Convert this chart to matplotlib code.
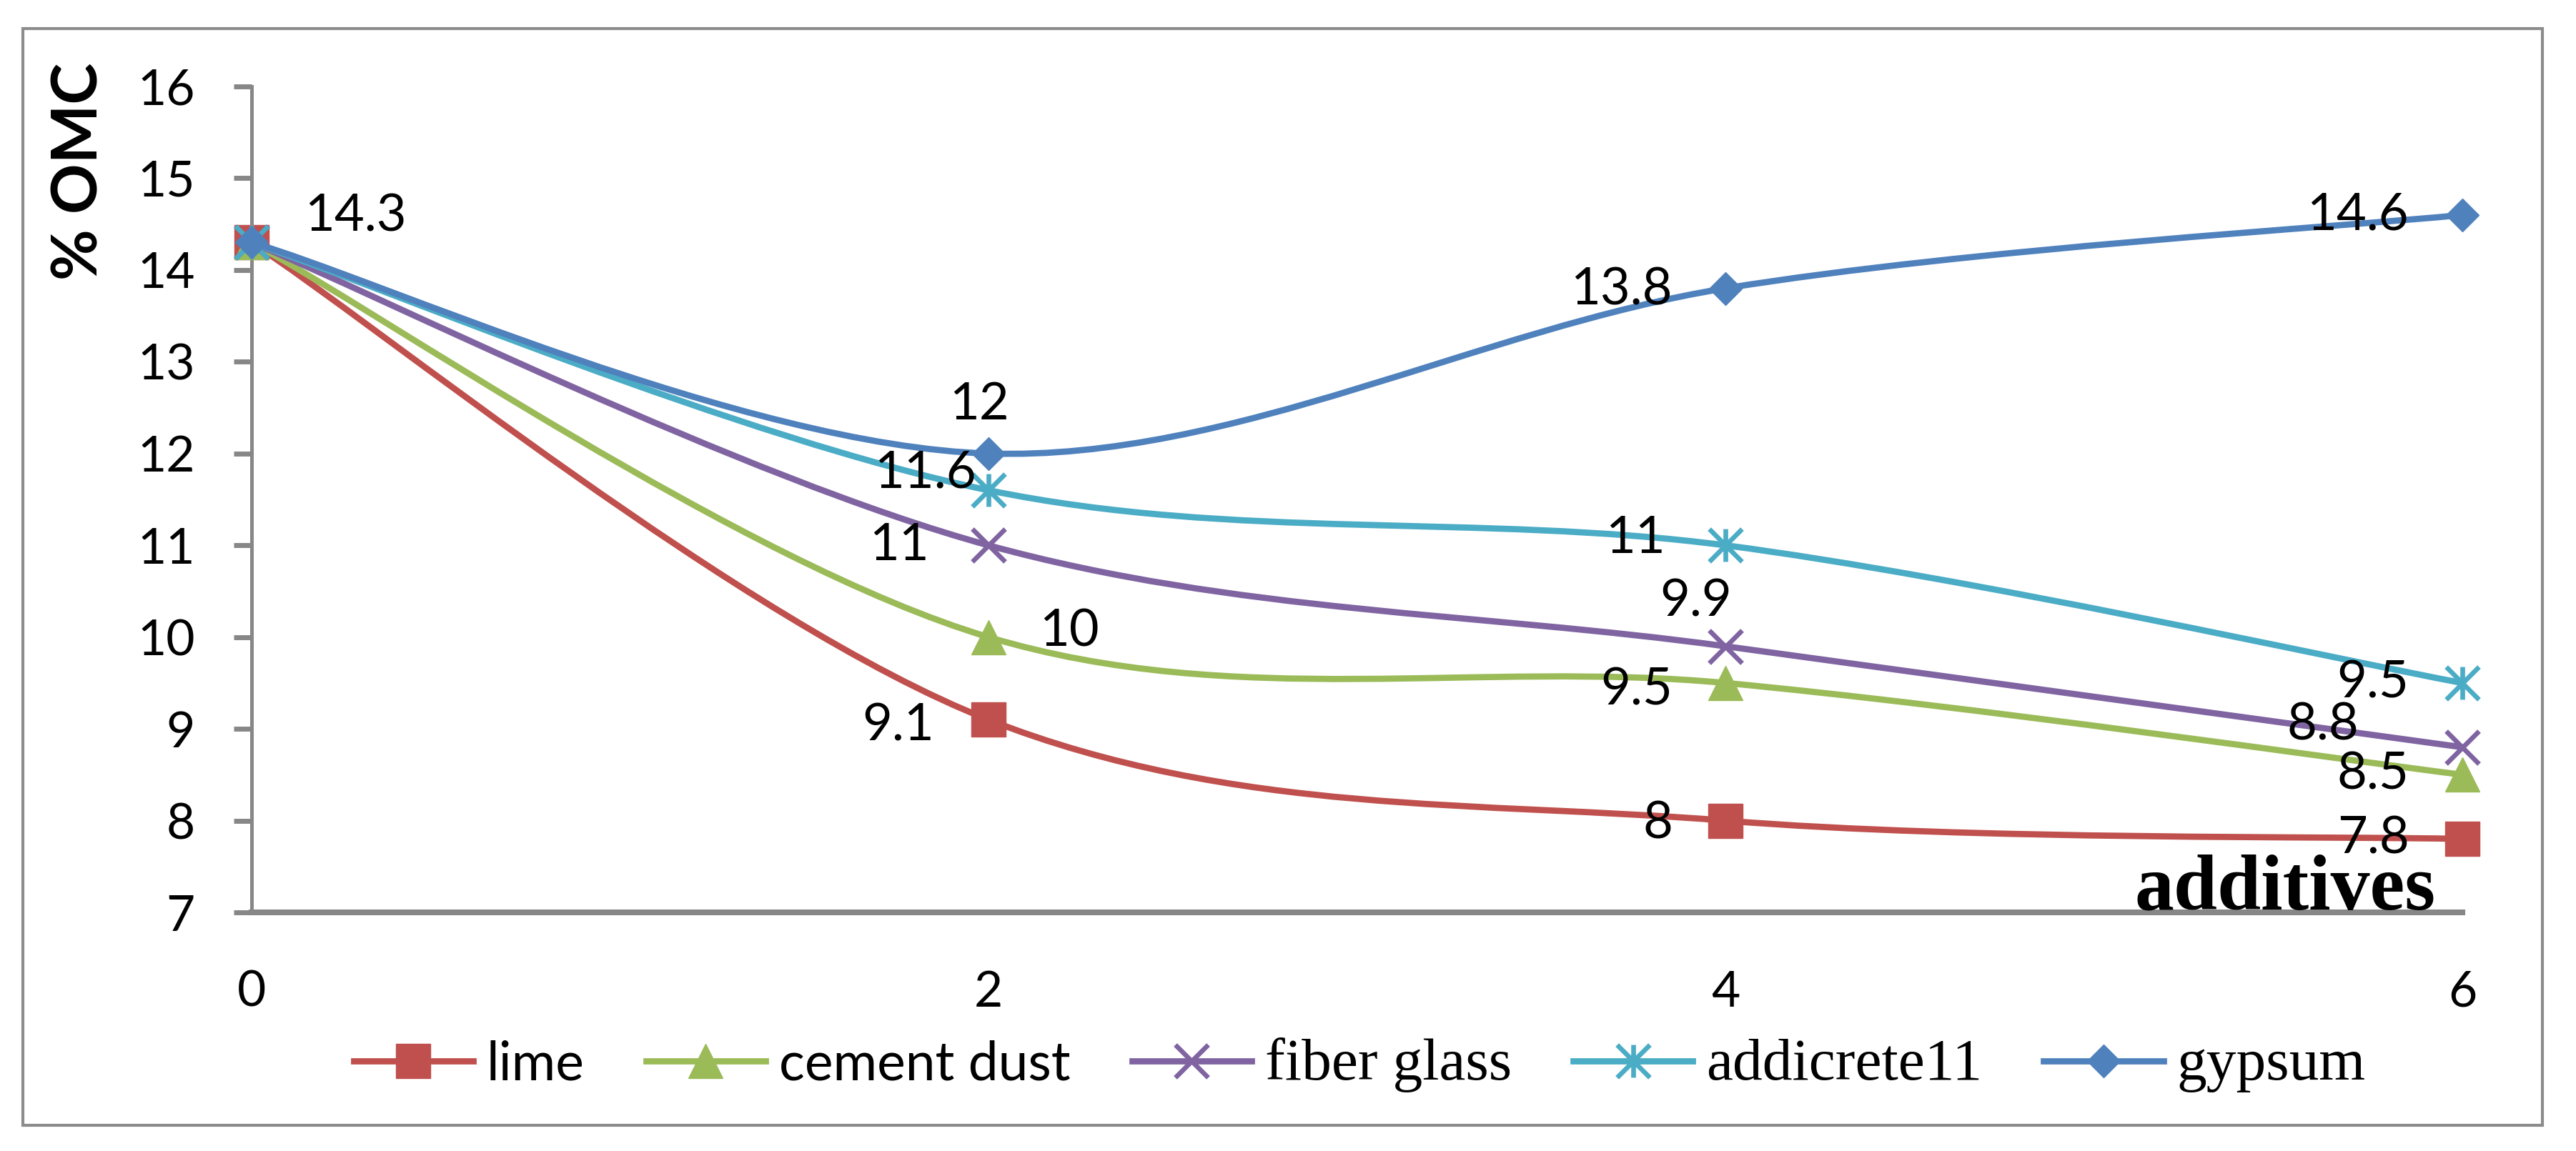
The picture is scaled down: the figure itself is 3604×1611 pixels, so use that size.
import matplotlib
matplotlib.use("Agg")
import matplotlib.pyplot as plt
from matplotlib.path import Path
from matplotlib.patches import PathPatch, Rectangle
from matplotlib.lines import Line2D
import numpy as np

# data
additive = [0, 2, 4, 6]
series_names = ['lime', 'cement dust', 'fiber glass', 'addicrete11', 'gypsum']
lime = [14.3, 9.1, 8, 7.8]
cement_dust = [14.3, 10, 9.5, 8.5]
fiber_glass = [14.3, 11, 9.9, 8.8]
addicrete11 = [14.3, 11.6, 11, 9.5]
gypsum = [14.3, 12, 13.8, 14.6]
y_ticks = [7, 8, 9, 10, 11, 12, 13, 14, 15, 16]
x_ticks = [0, 2, 4, 6]

values = [lime, cement_dust, fiber_glass, addicrete11, gypsum]

# styles
colors = ['#C0504D', '#9BBB59', '#8064A2', '#4BACC6', '#4F81BD']
grey = '#878787'

# asterisk marker like Excel's (x plus vertical bar)
ast_verts = [(-0.5, -0.5), (0.5, 0.5), (-0.5, 0.5), (0.5, -0.5), (0, -0.5), (0, 0.5)]
ast_codes = [Path.MOVETO, Path.LINETO] * 3
asterisk = Path(ast_verts, ast_codes)

markers = ['s', '^', 'x', asterisk, 'D']
msizes = [34, 34, 33, 33, 23]
filled = [True, True, False, False, True]

# label placement per point: (ha, dx px, dy px) or None
label_pos = [
    [None, ('right', -76, -9), ('right', -74, -4), ('right', -74, 0)],
    [None, ('left', 71, 8), ('right', -74, -10), ('right', -75, 0)],
    [None, ('right', -83, 0), ('center', -41, 63), ('right', -145, 31)],
    [None, ('right', -17, 24), ('right', -84, 10), ('right', -75, 0)],
    [('left', 74, 36), ('center', -13, 68), ('right', -74, -2), ('right', -75, 0)],
]

lab_font = 'Lato'
lw = 6.3

fig = plt.figure(figsize=(36.05, 16.11), dpi=100)
ax = fig.add_axes([0.0976, 0.2073, 0.9556 - 0.0976, 0.9249 - 0.2073])

# outer chart border
fig.patches.append(Rectangle((0.0089, 0.0223), 0.9778, 0.9528, transform=fig.transFigure,
                             fill=False, edgecolor='#8c8c8c', linewidth=3))


def smooth_path(xs, ys):
    # Excel-like smoothed line: cubic bezier through the points
    pts = np.column_stack([xs, ys]).astype(float)
    n = len(pts)
    verts = [pts[0]]
    codes = [Path.MOVETO]
    for i in range(n - 1):
        p0 = pts[max(i - 1, 0)]
        p1 = pts[i]
        p2 = pts[i + 1]
        p3 = pts[min(i + 2, n - 1)]
        c1 = p1 + (p2 - p0) / 6.0
        c2 = p2 - (p3 - p1) / 6.0
        verts += [c1, c2, p2]
        codes += [Path.CURVE4] * 3
    return Path(verts, codes)


handles = []
for k, (name, ys) in enumerate(zip(series_names, values)):
    c = colors[k]
    patch = PathPatch(smooth_path(additive, ys), facecolor='none', edgecolor=c,
                      linewidth=lw, transform=ax.transData, clip_on=False, zorder=2 + k)
    ax.add_patch(patch)
    mew = 1 if filled[k] else 4.8
    ax.plot(additive, ys, linestyle='none', marker=markers[k], markersize=msizes[k],
            markerfacecolor=c, markeredgecolor=c, markeredgewidth=mew,
            clip_on=False, zorder=2.5 + k)
    handles.append(Line2D([0], [0], color=c, linewidth=lw, marker=markers[k],
                          markersize=msizes[k], markerfacecolor=c, markeredgecolor=c,
                          markeredgewidth=mew))
    for j, pos in enumerate(label_pos[k]):
        if pos is None:
            continue
        ha, dx, dy = pos
        ax.annotate(f'{ys[j]:g}', (additive[j], ys[j]), xytext=(dx, dy),
                    textcoords='offset pixels', ha=ha, va='center',
                    fontsize=52, family=lab_font, color='black', zorder=20,
                    annotation_clip=False)

ax.set_xlim(0, 6)
ax.set_ylim(7, 16)
ax.set_xticks(x_ticks)
ax.set_yticks(y_ticks)
ax.set_xticklabels([str(v) for v in x_ticks], family=lab_font, fontsize=50)
ax.set_yticklabels([str(v) for v in y_ticks], family=lab_font, fontsize=50)
ax.tick_params(axis='x', length=0, pad=58)
ax.tick_params(axis='y', direction='out', length=18, width=5, color=grey, pad=39)

for s in ['top', 'right']:
    ax.spines[s].set_visible(False)
ax.spines['left'].set_color(grey)
ax.spines['left'].set_linewidth(3.6)
ax.spines['bottom'].set_color(grey)
ax.spines['bottom'].set_linewidth(5.8)

fig.text(0.0308, 0.851, '% OMC', rotation=90, ha='center', va='center',
         family=lab_font, fontweight='bold', fontsize=63)
ax.text(0.988, 0.004, 'additives', transform=ax.transAxes, ha='right', va='baseline',
        family='Liberation Serif', fontweight='bold', fontsize=79, zorder=20)

leg = ax.legend(handles, series_names, loc='center', bbox_to_anchor=(0.5276, 0.0745),
                bbox_transform=fig.transFigure, ncol=5, frameon=False,
                prop={'family': lab_font, 'size': 54}, handlelength=2.23,
                handletextpad=0.25, columnspacing=1.15, borderpad=0, numpoints=1)
for i, t in enumerate(leg.get_texts()):
    if i >= 2:
        t.set_family('Liberation Serif')
        t.set_fontsize(60)

fig.savefig('out.png', dpi=100, facecolor='white')
